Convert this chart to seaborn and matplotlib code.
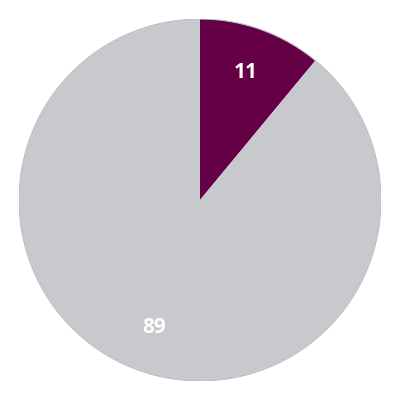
import matplotlib
matplotlib.use("Agg")
import matplotlib.pyplot as plt
import seaborn as sns

sns.set_theme(style="white")
plt.rcParams['font.family'] = ['Open Sans', 'DejaVu Sans']

categories = ["A", "B"]
values = [11, 89]
colors = ["#650046", "#c7c9cd"]

fig = plt.figure(figsize=(4, 4), dpi=100)
ax = fig.add_axes([19/400, 19/400, 362/400, 362/400])
wedges, texts = ax.pie(values, colors=colors, startangle=90, counterclock=False,
                       labels=[str(v) for v in values], labeldistance=0.75,
                       wedgeprops=dict(linewidth=0),
                       textprops=dict(color="white", fontsize=15, fontweight="bold"))
for t in texts:
    t.set_horizontalalignment("center")
    t.set_verticalalignment("center")
outline = plt.Circle((0, 0), 1, fill=False, edgecolor="#bfc1c5", linewidth=0.8)
ax.add_patch(outline)
ax.set_xlim(-1.0, 1.0)
ax.set_ylim(-1.0, 1.0)
ax.set_aspect("equal")
ax.axis("off")
fig.savefig("out.png", dpi=100, facecolor="white")
